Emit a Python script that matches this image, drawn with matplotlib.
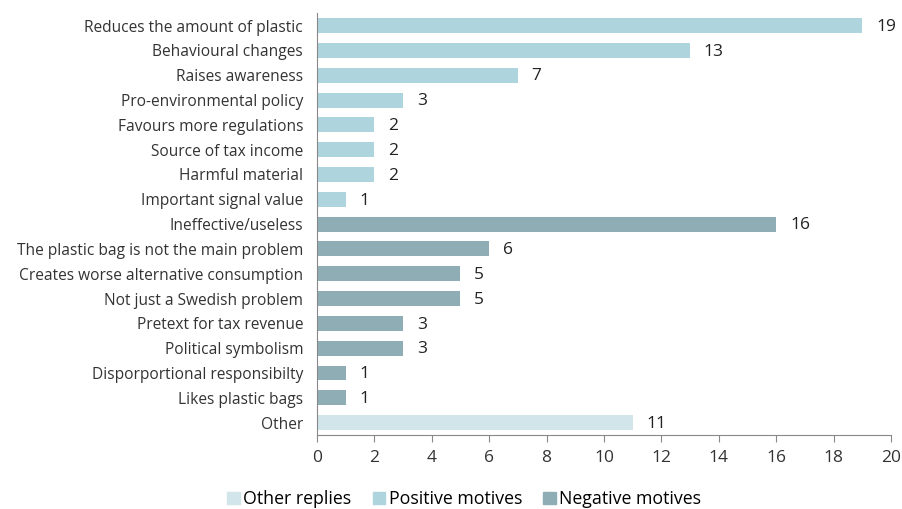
import numpy as np
import matplotlib.pyplot as plt
from matplotlib.patches import Patch

plt.rcParams['font.family'] = ['Open Sans', 'DejaVu Sans']

categories = [
    "Reduces the amount of plastic", "Behavioural changes", "Raises awareness",
    "Pro-environmental policy", "Favours more regulations", "Source of tax income",
    "Harmful material", "Important signal value", "Ineffective/useless",
    "The plastic bag is not the main problem", "Creates worse alternative consumption",
    "Not just a Swedish problem", "Pretext for tax revenue", "Political symbolism",
    "Disporportional responsibilty", "Likes plastic bags", "Other",
]
values = [19, 13, 7, 3, 2, 2, 2, 1, 16, 6, 5, 5, 3, 3, 1, 1, 11]
groups = ["pos"] * 8 + ["neg"] * 8 + ["other"]

colors = {"other": "#d1e5ea", "pos": "#aed4de", "neg": "#8fadb5"}
legend_names = {"other": "Other replies", "pos": "Positive motives", "neg": "Negative motives"}

fig = plt.figure(figsize=(9.03, 5.09), dpi=100)
ax = fig.add_axes([0.351, 0.1454, 0.6357, 0.8286])

y = np.arange(len(categories))
ax.barh(y, values, height=0.6, color=[colors[g] for g in groups])
for yi, v in zip(y, values):
    ax.text(v + 0.48, yi + 0.05, str(v), va="center", ha="left", fontsize=12.5, color="#222222")

ax.set_yticks(y)
ax.set_yticklabels(categories, fontsize=11.2, color="#333333")
ax.set_ylim(len(categories) - 0.5, -0.5)
ax.set_xlim(0, 20)
ax.set_xticks(np.arange(0, 21, 2))
ax.tick_params(axis="x", labelsize=12.5, colors="#333333", length=5, color="#888888", pad=6)
ax.tick_params(axis="y", length=0, pad=10)
for s in ["top", "right"]:
    ax.spines[s].set_visible(False)
for s in ["left", "bottom"]:
    ax.spines[s].set_color("#888888")

handles = [Patch(color=colors[k], label=legend_names[k]) for k in ["other", "pos", "neg"]]
fig.legend(handles=handles, loc="lower center", bbox_to_anchor=(0.514, -0.03), ncol=3,
           frameon=False, fontsize=12.8, handlelength=0.7, handleheight=0.7,
           handletextpad=0.2, columnspacing=1.2)

fig.savefig("out.png", dpi=100)
